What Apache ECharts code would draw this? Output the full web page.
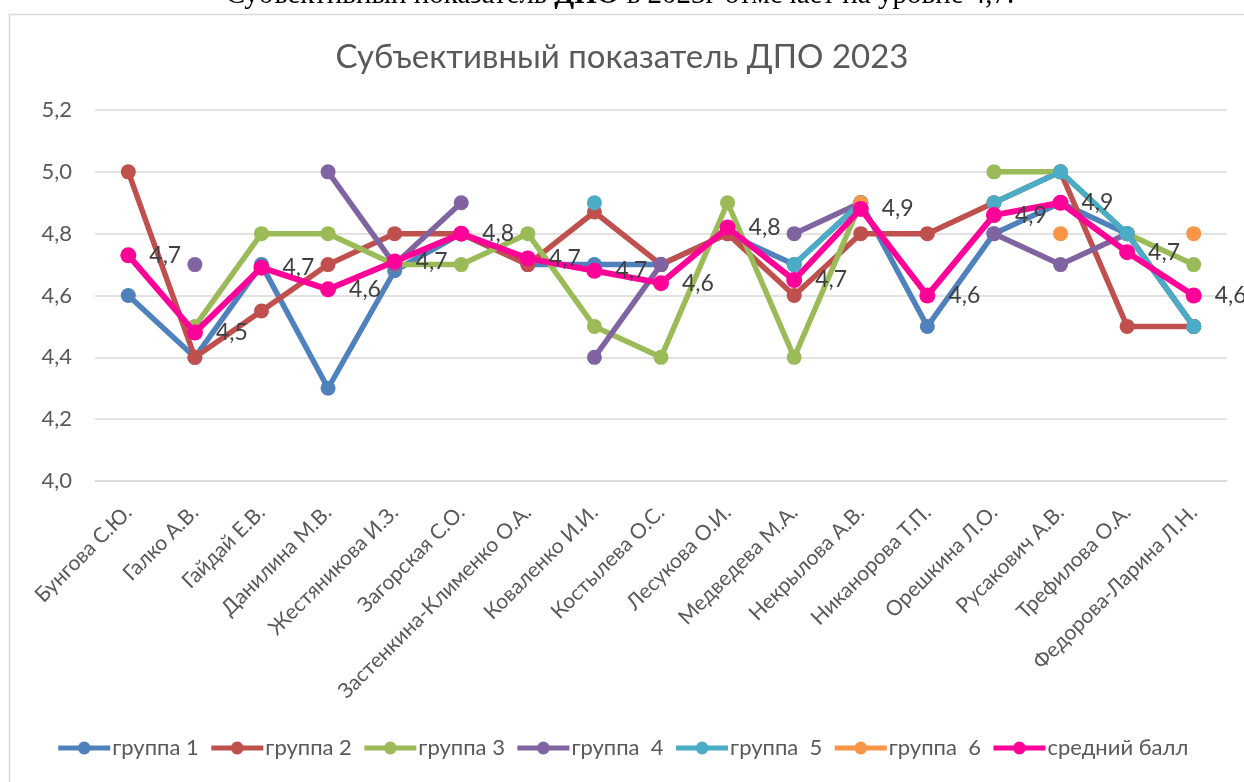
<!DOCTYPE html>
<html>
<head>
<meta charset="utf-8">
<script src="https://cdn.jsdelivr.net/npm/echarts@6/dist/echarts.min.js"></script>
<style>
html,body{margin:0;padding:0;background:#fff;}
#c{width:1244px;height:782px;}
</style>
</head>
<body>
<div id="c"></div>
<script>
const categories = ['Бунгова С.Ю.','Галко А.В.','Гайдай Е.В.','Данилина М.В.','Жестяникова И.З.','Загорская С.О.','Застенкина-Клименко О.А.','Коваленко И.И.','Костылева О.С.','Лесукова О.И.','Медведева М.А.','Некрылова А.В.','Никанорова Т.П.','Орешкина Л.О.','Русакович А.В.','Трефилова О.А.','Федорова-Ларина Л.Н.'];
const group1 = [4.6,4.4,4.7,4.3,4.68,4.8,4.7,4.7,4.7,4.8,4.7,4.9,4.5,4.8,4.9,4.8,4.5];
const group2 = [5.0,4.4,4.55,4.7,4.8,4.8,4.7,4.87,4.7,4.8,4.6,4.8,4.8,4.9,5.0,4.5,4.5];
const group3 = [null,4.5,4.8,4.8,4.7,4.7,4.8,4.5,4.4,4.9,4.4,4.9,null,5.0,5.0,4.8,4.7];
const group4 = [null,4.7,null,5.0,4.7,4.9,null,4.4,4.7,null,4.8,4.9,null,4.8,4.7,4.8,4.5];
const group5 = [null,null,null,null,null,null,null,4.9,null,null,4.7,4.9,null,4.9,5.0,4.8,4.5];
const group6 = [null,null,null,null,null,null,null,null,null,null,null,4.9,null,null,4.8,null,4.8];
const average = [4.73,4.48,4.69,4.62,4.71,4.8,4.72,4.68,4.64,4.82,4.65,4.88,4.6,4.86,4.9,4.74,4.6];
const seriesNames = ['группа 1','группа 2','группа 3','группа  4','группа  5','группа  6','средний балл'];
const yTicks = {min: 4.0, max: 5.2, interval: 0.2};

const FONT = 'Lato, "Open Sans", sans-serif';
const colors = ['#4F81BD','#C0504D','#9BBB59','#8064A2','#4BACC6','#F79646','#FF0099'];
const dataSets = [group1, group2, group3, group4, group5, group6, average];
const fmt = v => Number(v).toFixed(1).replace('.', ',');

const series = dataSets.map((d, i) => {
  const isAvg = i === 6;
  const s = {
    name: seriesNames[i],
    type: 'line',
    data: d,
    symbol: 'circle',
    symbolSize: isAvg ? 16 : 15,
    itemStyle: {color: colors[i]},
    lineStyle: {width: isAvg ? 6 : 5.5, color: colors[i]},
    z: 2 + i,
    animation: false
  };
  if (isAvg) {
    s.label = {
      show: true, position: 'right', distance: 13,
      formatter: p => fmt(p.value),
      fontFamily: FONT, fontSize: 23, color: '#404040'
    };
  }
  return s;
});

const chart = echarts.init(document.getElementById('c'), null, {renderer: 'canvas'});
chart.setOption({
  backgroundColor: '#fff',
  animation: false,
  textStyle: {fontFamily: FONT},
  graphic: [
    {type: 'rect', left: 7, top: 12, shape: {width: 1260, height: 800}, style: {fill: 'none', stroke: '#d9d9d9', lineWidth: 1.5}, silent: true, z: -10},
    {type: 'text', x: 620, y: 10, style: {
      text: '{a|Субъективный показатель }{b|ДПО}{a| в 2023г отмечает на уровне 4,7.}',
      align: 'center', verticalAlign: 'bottom',
      rich: {a: {fontFamily: '"Liberation Serif", serif', fontSize: 29, fill: '#000'}, b: {fontFamily: '"Liberation Serif", serif', fontSize: 29, fontWeight: 'bold', fill: '#000'}}
    }}
  ],
  title: {
    text: 'Субъективный показатель ДПО 2023',
    left: 'center', top: 36,
    textStyle: {fontFamily: FONT, fontSize: 33, fontWeight: 'normal', color: '#595959'}
  },
  legend: {
    data: seriesNames,
    bottom: 18, left: 'center',
    itemWidth: 52, itemHeight: 16, itemGap: 10,
    lineStyle: {width: 5},
    textStyle: {fontFamily: FONT, fontSize: 22, color: '#595959', padding: [0, 0, 0, -3]}
  },
  grid: {left: 95, right: 17, top: 110, bottom: 301, containLabel: false},
  xAxis: {
    type: 'category', data: categories, boundaryGap: true,
    axisLine: {show: true, lineStyle: {color: '#d9d9d9', width: 1.5}},
    axisTick: {show: false},
    axisLabel: {rotate: 45, interval: 0, fontFamily: FONT, fontSize: 21, color: '#595959', margin: 28}
  },
  yAxis: {
    type: 'value', min: yTicks.min, max: yTicks.max, interval: yTicks.interval,
    axisLine: {show: false}, axisTick: {show: false},
    splitLine: {lineStyle: {color: '#d9d9d9', width: 1.5}},
    axisLabel: {formatter: v => fmt(v), fontFamily: FONT, fontSize: 22, color: '#595959', margin: 23}
  },
  series: series
});
</script>
</body>
</html>
